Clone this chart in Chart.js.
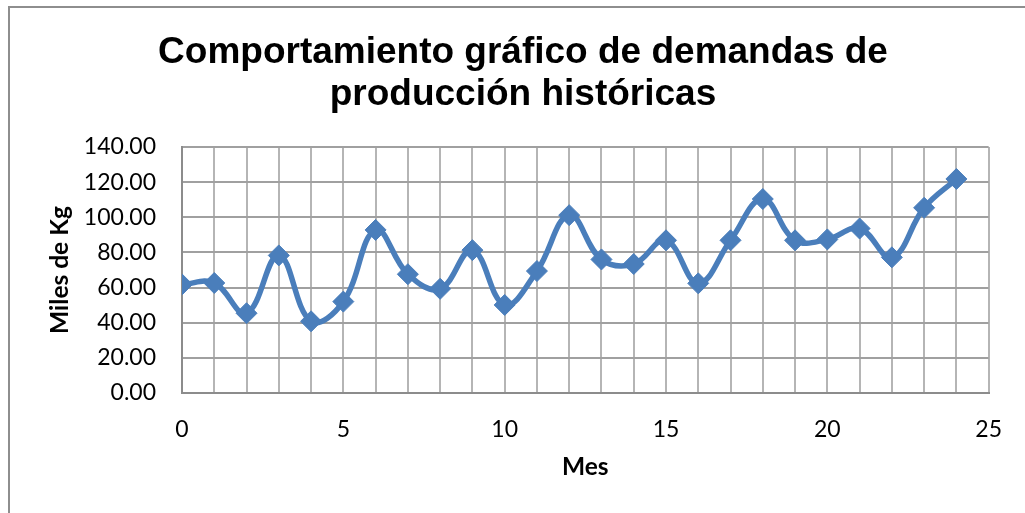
<!DOCTYPE html>
<html>
<head>
<meta charset="utf-8">
<script src="https://cdn.jsdelivr.net/npm/chart.js@4"></script>
<style>
  html, body { margin:0; padding:0; background:#fff; overflow:hidden; }
  #wrap { position:relative; width:1025px; height:513px; }
  #frame { position:absolute; left:8px; top:6px; width:1100px; height:600px; border:2px solid #8e8e8e; }
  #chart { position:absolute; left:0; top:0; }
</style>
</head>
<body>
<div id="wrap">
  <div id="frame"></div>
  <canvas id="chart" width="1025" height="513"></canvas>
</div>
<script>
// data
const meses = [0,1,2,3,4,5,6,7,8,9,10,11,12,13,14,15,16,17,18,19,20,21,22,23,24];
const demanda = [61.8,62.6,45.4,78.3,40.8,52.0,92.8,67.6,59.3,81.3,50.1,69.4,101.2,76.0,73.4,86.9,62.4,86.9,110.4,86.9,87.4,93.6,77.2,105.4,121.8];
const yTicks = [0,20,40,60,80,100,120,140];
const xLabelEvery = 5;

const points = meses.map((m,i)=>({x:m, y:demanda[i]}));

/* =========================================
   Chart
========================================= */

const ctx = document.getElementById("chart").getContext("2d");

new Chart(ctx,{
    type:"line",
    data:{
        datasets:[{
            label:"Demanda",
            data:points,
            borderColor:"#4a7ebb",
            backgroundColor:"#4a7ebb",
            borderWidth:5.5,
            tension:0.4,
            pointStyle:"rectRot",
            pointRadius:10.5,
            pointBorderWidth:1,
            pointBorderColor:"#4a7ebb",
            pointBackgroundColor:"#4a7ebb"
        }]
    },
    options:{
        responsive:false,
        animation:false,
        layout:{ padding:{ left:49, right:28, top:0, bottom:0 } },
        plugins:{
            legend:{display:false},
            tooltip:{enabled:false},
            title:{
                display:true,
                text:["Comportamiento gráfico de demandas de","producción históricas"],
                color:"#000",
                font:{ family:"'Liberation Sans', Arial, sans-serif", size:37, weight:"bold", lineHeight:1.135 },
                padding:{ top:32, bottom:31 }
            }
        },
        scales:{
            x:{
                type:"linear",
                min:0,
                max:25,
                afterFit:(s)=>{ s.height = 120; },
                afterBuildTicks:(s)=>{ s.ticks = meses.concat([25]).map(v=>({value:v})); },
                ticks:{
                    autoSkip:false,
                    maxRotation:0,
                    padding:23,
                    color:"#000",
                    font:{ family:"Lato, sans-serif", size:23 },
                    callback:(v)=> v % xLabelEvery === 0 ? String(v) : ""
                },
                grid:{ color:"#b5b5b5", lineWidth:2, drawTicks:false },
                border:{ color:"#8c8c8c", width:2 },
                title:{
                    display:true,
                    text:"Mes",
                    color:"#000",
                    font:{ family:"Lato, sans-serif", size:24.5, weight:"bold", lineHeight:1.2 },
                    padding:{ top:31, bottom:31 }
                }
            },
            y:{
                min:0,
                max:140,
                afterFit:(s)=>{ s.width = 133; },
                afterBuildTicks:(s)=>{ s.ticks = yTicks.map(v=>({value:v})); },
                ticks:{
                    padding:26,
                    color:"#000",
                    font:{ family:"Lato, sans-serif", size:23 },
                    callback:(v)=> Number(v).toFixed(2)
                },
                grid:{ color:"#a0a0a0", lineWidth:2, drawTicks:false },
                border:{ color:"#8c8c8c", width:2 },
                title:{
                    display:true,
                    text:"Miles de Kg",
                    color:"#000",
                    font:{ family:"Lato, sans-serif", size:24.5, weight:"bold", lineHeight:1.2 },
                    padding:{ top:-3.7, bottom:0 }
                }
            }
        }
    }
});
</script>
</body>
</html>
